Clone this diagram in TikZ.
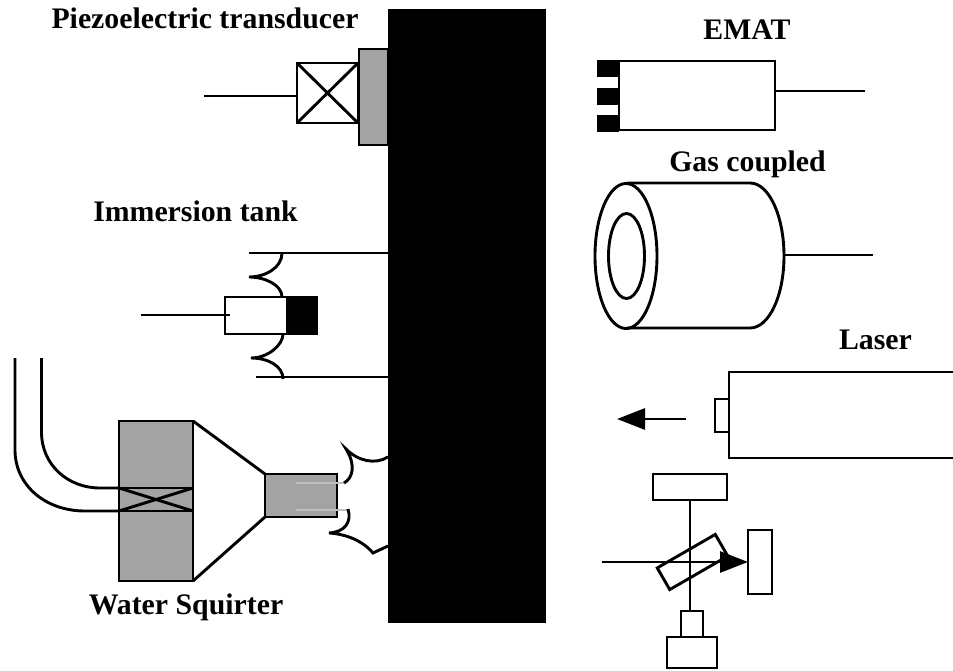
\documentclass[tikz,border=0pt]{standalone}
\usepackage{fontspec}
\setmainfont{Liberation Serif}
\usepackage{tikz}
\usetikzlibrary{arrows.meta,positioning,calc}
\definecolor{partgray}{gray}{0.64}
\tikzset{
 part/.style={draw,line width=2.9pt,inner sep=0pt,outer sep=0pt},
 grayblock/.style={part,fill=partgray},
 solidblock/.style={fill=black,inner sep=0pt,outer sep=0pt},
 wire/.style={line width=2.9pt},
 thinwire/.style={line width=2.2pt,draw=partgray!70},
 beam/.style={-{Triangle[length=28pt,width=21pt]},line width=2.9pt},
 title/.style={font=\bfseries\fontsize{29.8}{32}\selectfont,anchor=base,inner sep=0pt}
}
\begin{document}
\begin{tikzpicture}[x=1pt,y=-1pt]
\useasboundingbox (0,0) rectangle (953,671);
\node[solidblock,minimum width=158pt,minimum height=614pt] (plate) at (467,316) {};
% piezo
\node[title] (piezolabel) at (205,29) {Piezoelectric transducer};
\node[grayblock,minimum width=29pt,minimum height=96pt] (shoe) at (373.5,97) {};
\node[part,minimum width=61pt,minimum height=60pt] (crystal) at (327.5,93) {};
\coordinate (piezoend) at (204,96);
\draw[wire] (piezoend) -- (piezoend-|crystal.west);
\draw[wire] (crystal.north west) -- (crystal.south east);
\draw[wire] (crystal.south west) -- (crystal.north east);
% immersion
\node[title] (tanklabel) at (195.5,222) {Immersion tank};
\node[part,minimum width=62pt,minimum height=37pt] (probe) at (256,315.5) {};
\node[solidblock,minimum width=31pt,minimum height=39pt,right=0pt of probe] (probeface) {};
\coordinate (tankend) at (141,315);
\coordinate (probein) at (230,315);
\draw[wire] (tankend) -- (probein);
\coordinate (tanktop) at (249,253);
\coordinate (tankbot) at (256,377);
\draw[wire] (tanktop) -- (tanktop-|plate.west);
\draw[wire] (tankbot) -- (tankbot-|plate.west);
\draw[wire] (282,253) .. controls (282,268) and (265,277) .. (249,277)
  .. controls (265,277) and (282,285) .. (282,297);
\draw[wire] (283,334) .. controls (283,345) and (268,358) .. (251,358)
  .. controls (268,358) and (283,366) .. (283,379);
% squirter
\node[title] (squirtlabel) at (186,614) {Water Squirter};
\node[grayblock,minimum width=74pt,minimum height=160pt] (valve) at (156,501) {};
\node[grayblock,minimum width=72pt,minimum height=43pt] (nozzle) at (301,495.5) {};
\coordinate (rowa) at (0,488);
\coordinate (rowb) at (0,511);
\draw[wire] (valve.west|-rowa) -- (valve.east|-rowa);
\draw[wire] (valve.west|-rowb) -- (valve.east|-rowb);
\draw[wire] (valve.west|-rowa) -- (valve.east|-rowb);
\draw[wire] (valve.west|-rowb) -- (valve.east|-rowa);
\draw[wire] (valve.north east) -- (nozzle.north west);
\draw[wire] (valve.south east) -- (nozzle.south west);
\draw[wire] (41.5,358) -- (41.5,432) .. controls (41.5,465) and (68,488) .. (100,488) -- (valve.west|-rowa);
\draw[wire] (15,358) -- (15,450) .. controls (15,485) and (45,511) .. (85,511) -- (valve.west|-rowb);
\draw[thinwire] (296,483) -- (345,483);
\draw[thinwire] (296,510) -- (347,510);
\draw[wire] (344,483) .. controls (353,478) and (356,465) .. (346,449)
  .. controls (358,461) and (375,465) .. (388,457);
\draw[wire] (348,509) .. controls (352,522) and (345,532) .. (329,533)
  .. controls (345,534) and (362,540) .. (373,553) -- (388,546);
% emat
\node[title] (ematlabel) at (747,40) {EMAT};
\node[part,minimum width=156pt,minimum height=69pt] (emat) at (697,95.5) {};
\foreach \padname/\pady in {a/68.5,b/96.5,c/123.5}
  \node[solidblock,minimum width=22pt,minimum height=17pt] (pad\padname) at (608,\pady) {};
\coordinate (ematend) at (865,91);
\draw[wire] (emat.east|-ematend) -- (ematend);
% gas coupled
\node[title] (gaslabel) at (747.5,172) {Gas coupled};
\draw[wire] (627,183) -- (750,183) .. controls (769,183) and (784,216) .. (784,256)
  .. controls (784,296) and (769,328) .. (750,328) -- (627,328);
\draw[wire] (626,256) ellipse [x radius=31,y radius=72.5];
\draw[wire] (626.5,256) ellipse [x radius=18,y radius=42.5];
\coordinate (gasin) at (784,255);
\coordinate (gasend) at (873,255);
\draw[wire] (gasin) -- (gasend);
% laser
\node[title] (laserlabel) at (875.5,349) {Laser};
\draw[wire] (953,372) -- (729,372) -- (729,458) -- (953,458);
\node[part,minimum width=14pt,minimum height=33pt] (lasertip) at (722,415.5) {};
\coordinate (pulsestart) at (686,419);
\coordinate (pulseend) at (617,419);
\draw[beam] (pulsestart) -- (pulseend);
% interferometer
\node[part,minimum width=74pt,minimum height=26pt] (mirror) at (690,487) {};
\node[part,minimum width=24pt,minimum height=64pt] (target) at (760,562) {};
\node[part,minimum width=22pt,minimum height=26pt] (detneck) at (692,624) {};
\node[part,minimum width=50pt,minimum height=31pt,below=0pt of detneck] (detector) {};
\node[part,minimum width=67pt,minimum height=25pt,rotate=30] (splitter) at (692.5,562) {};
\coordinate (inbeam) at (602,562);
\draw[wire] (mirror.south) -- (mirror.south|-detneck.north);
\draw[beam] (inbeam) -- (target.west);
\end{tikzpicture}
\end{document}
